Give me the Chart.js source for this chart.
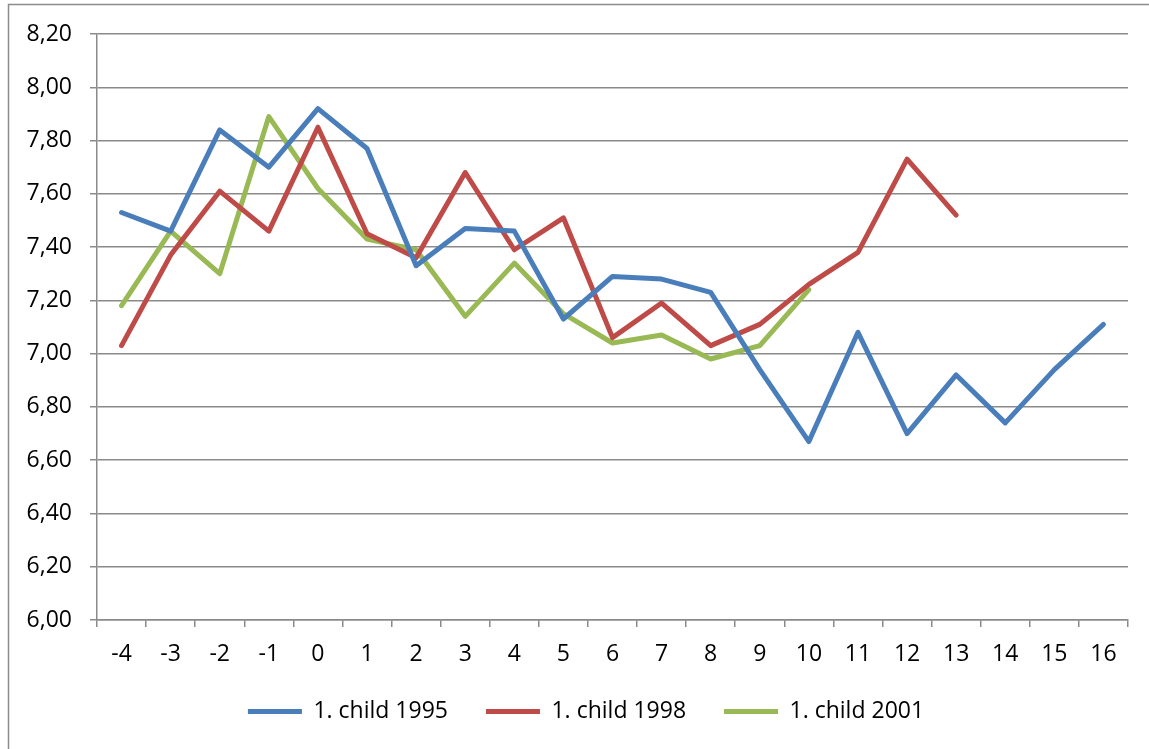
<!DOCTYPE html>
<html>
<head>
<meta charset="utf-8">
<script src="https://cdn.jsdelivr.net/npm/chart.js@4"></script>
<style>
  html, body { margin: 0; padding: 0; background: #fff; }
  #wrap { position: relative; width: 1149px; height: 749px; }
</style>
</head>
<body>
<div id="wrap"><canvas id="childChart" width="1149" height="749"></canvas></div>
<script>
// data
const years = ["-4", "-3", "-2", "-1", "0", "1", "2", "3", "4", "5", "6", "7", "8", "9", "10", "11", "12", "13", "14", "15", "16"];
const child1995 = [7.53, 7.46, 7.84, 7.70, 7.92, 7.77, 7.33, 7.47, 7.46, 7.13, 7.29, 7.28, 7.23, 6.94, 6.67, 7.08, 6.70, 6.92, 6.74, 6.94, 7.11];
const child1998 = [7.03, 7.37, 7.61, 7.46, 7.85, 7.45, 7.36, 7.68, 7.39, 7.51, 7.06, 7.19, 7.03, 7.11, 7.26, 7.38, 7.73, 7.52];
const child2001 = [7.18, 7.46, 7.30, 7.89, 7.62, 7.43, 7.39, 7.14, 7.34, 7.15, 7.04, 7.07, 6.98, 7.03, 7.24];
const seriesNames = ["1. child 1995", "1. child 1998", "1. child 2001"];

const gridGray = "#8a8a8a";
const font = { family: "'Open Sans', 'Noto Sans', sans-serif", size: 23 };

// outer frame of the excel chart (only left and top edge are visible)
// and a small nudge of the legend, which excel centres on the whole frame
const framePlugin = {
    id: "frame",
    afterLayout(chart) {
        chart.legend.left += 22;
        chart.legend.right += 22;
    },
    beforeDraw(chart) {
        const c = chart.ctx;
        c.save();
        c.fillStyle = "#fff";
        c.fillRect(0, 0, chart.width, chart.height);
        c.strokeStyle = "#8c8c8c";
        c.lineWidth = 1.5;
        c.beginPath();
        c.moveTo(8.5, chart.height);
        c.lineTo(8.5, 4.5);
        c.lineTo(chart.width, 4.5);
        c.stroke();
        c.restore();
    }
};

const makeSet = (label, data, color) => ({
    label: label,
    data: data,
    borderColor: color,
    backgroundColor: color,
    borderWidth: 5,
    borderJoinStyle: "round",
    borderCapStyle: "round",
    pointRadius: 0,
    tension: 0,
    fill: false
});

var config = {
    type: "line",
    data: {
        labels: years,
        datasets: [
            makeSet(seriesNames[0], child1995, "#4a7ebb"),
            makeSet(seriesNames[1], child1998, "#be4b48"),
            makeSet(seriesNames[2], child2001, "#98b954")
        ]
    },
    options: {
        responsive: false,
        animation: false,
        layout: { padding: { top: 34, right: 21, left: 0, bottom: 16 } },
        plugins: {
            tooltip: { enabled: false },
            legend: {
                position: "bottom",
                labels: {
                    font: font,
                    color: "#000",
                    usePointStyle: true,
                    pointStyle: "line",
                    pointStyleWidth: 54,
                    padding: 38
                }
            }
        },
        scales: {
            x: {
                offset: true,
                grid: { display: true, drawOnChartArea: false, drawTicks: true, tickLength: 7, color: gridGray, lineWidth: 1.5, offset: true },
                border: { display: true, color: gridGray, width: 1.5 },
                ticks: { font: font, color: "#000", padding: 14, maxRotation: 0, autoSkip: false },
                afterFit: (s) => { s.height = 42; }
            },
            y: {
                min: 6,
                max: 8.2,
                grid: { color: gridGray, lineWidth: 1.5, tickLength: 7 },
                border: { display: true, color: gridGray, width: 1.5 },
                ticks: {
                    stepSize: 0.2,
                    font: font,
                    color: "#000",
                    padding: 18,
                    callback: (v) => Number(v).toFixed(2).replace(".", ",")
                },
                afterFit: (s) => { s.width = 97; }
            }
        }
    },
    plugins: [framePlugin]
};

var childChart = new Chart(document.getElementById("childChart"), config);
</script>
</body>
</html>
